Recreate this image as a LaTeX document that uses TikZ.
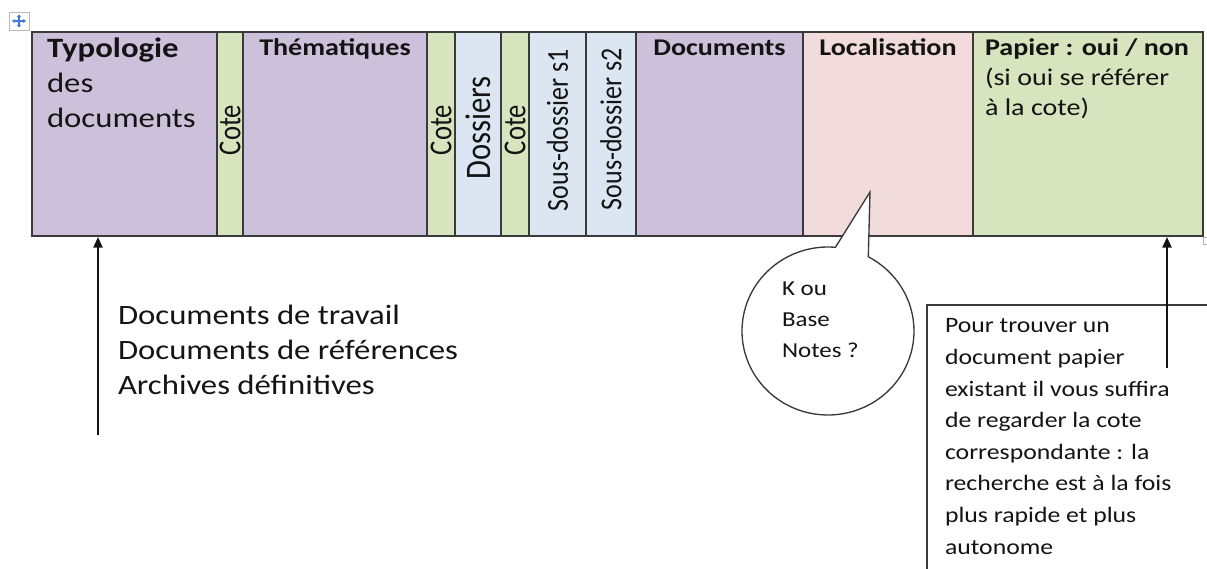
\documentclass[tikz,border=0pt]{standalone}
\usepackage{fontspec}
\setmainfont{Carlito}[FakeStretch=1.17]
\newfontfamily\rotfont{Carlito}
\usetikzlibrary{arrows.meta,shapes.callouts,calc}
\definecolor{lila}{HTML}{CCC0DA}
\definecolor{vert}{HTML}{D7E4BD}
\definecolor{bleu}{HTML}{DCE6F2}
\definecolor{rose}{HTML}{F2DCDB}
\definecolor{trait}{HTML}{3A3A3A}
\definecolor{encre}{HTML}{141414}
\definecolor{bleuicone}{HTML}{3C78D8}
\begin{document}
\begin{tikzpicture}[x=0.75pt, y=-0.75pt, >={Triangle[length=8pt,width=7pt]},
    every node/.style={text=encre, inner sep=0pt, outer sep=0pt},
    cell/.style={draw=trait, line width=1.5pt, minimum height=153pt, anchor=north west},
    head/.style={font=\fontsize{18}{22.5}\selectfont\bfseries, anchor=base},
    vtext/.style={rotate=90},
    txt/.style={anchor=base west, align=left},
    fleche/.style={->, draw=encre, line width=1.2pt, shorten >=0.8pt}]
    \useasboundingbox (0,0) rectangle (1207,568);
    \clip (0,0) rectangle (1207,568);

    % poignee du tableau
    \node[draw=gray!55, fill=white, line width=0.6pt, minimum width=15pt, minimum height=13.5pt, anchor=north west] (poignee) at (9,12) {};
    \draw[bleuicone, line width=0.8pt, {Triangle[length=2pt,width=3pt]}-{Triangle[length=2pt,width=3pt]}]
    ($(poignee.center)+(-7,0)$) -- ($(poignee.center)+(7,0)$);
    \draw[bleuicone, line width=0.8pt, {Triangle[length=2pt,width=3pt]}-{Triangle[length=2pt,width=3pt]}]
    ($(poignee.center)+(0,-6.5)$) -- ($(poignee.center)+(0,6.5)$);

    % colonnes
    \foreach \l/\r/\c/\n in {32/217/lila/typo, 217/243/vert/coteA, 243/427/lila/them,
      427/455/vert/coteB, 455/501/bleu/doss, 501/529/vert/coteC, 529/586/bleu/sdA,
      586/636/bleu/sdB, 636/803/lila/docs, 803/973/rose/loca, 973/1203/vert/papier}
    \node[cell, fill=\c, minimum width={(\r-\l)*0.75pt}] (\n) at (\l,32) {};
    \node[draw=gray!60, line width=0.6pt, minimum size=5.5pt, anchor=north west] (coin) at (1203,237) {};

    % base = derniere ligne
    \node[txt, font=\fontsize{21}{26.25}\selectfont] (typotxt) at (47,127) {\textbf{Typologie}\\des\\documents};
    \node[head] (themtxt) at ($(them.north)+(0,23)$) {Thématiques};
    \node[head] (docstxt) at ($(docs.north)+(0,23)$) {Documents};
    \node[head] (locatxt) at ($(loca.north)+(0,23)$) {Localisation};
    \node[txt, font=\fontsize{18}{22.5}\selectfont] (papiertxt) at (985,115) {\textbf{Papier : oui / non}\\(si oui se référer\\à la cote)};

    \foreach \n in {coteA, coteB, coteC}
    \node[vtext, font=\rotfont\fontsize{20}{24}\selectfont] at ($(\n.north)+(0,98)$) {\scalebox{1}[1.2]{Cote}};
    \node[vtext, font=\rotfont\fontsize{23}{27}\selectfont] (dosstxt) at ($(doss.north)+(0,96)$) {\scalebox{1}[1.17]{Dossiers}};
    \node[vtext, font=\rotfont\fontsize{19.5}{24}\selectfont] (sdAtxt) at ($(sdA.north)+(0,98)$) {\scalebox{1}[1.17]{Sous-dossier s1}};
    \node[vtext, font=\rotfont\fontsize{19.5}{24}\selectfont] (sdBtxt) at ($(sdB.north)+(0,97)$) {\scalebox{1}[1.17]{Sous-dossier s2}};

    % types de documents
    \node[txt, font=\fontsize{21}{26.25}\selectfont] (types) at (118,394) {Documents de travail\\Documents de références\\Archives définitives};
    \coordinate (queueA) at (98,435);
    \draw[fleche] (queueA) -- (queueA |- typo.south);

    % bulle
    \node[ellipse callout, draw=trait, fill=white, line width=1pt, minimum width=129pt, minimum height=126pt,
      callout absolute pointer={(870,192)}, callout pointer arc=23] (bulle) at (828,331) {};
    \node[txt, font=\fontsize{16}{23}\selectfont] (bulletxt) at (782,357) {K ou\\Base\\Notes ?};

    % encadre papier
    \node[draw=trait, line width=1.5pt, anchor=north west, minimum width=225pt, minimum height=225pt] (encadre) at (927,305) {};
    \node[txt, font=\fontsize{16.5}{23.7}\selectfont] (note) at (945,554) {Pour trouver un\\document papier\\existant il vous suffira\\de regarder la cote\\correspondante : la\\recherche est à la fois\\plus rapide et plus\\autonome};
    \coordinate (queueB) at (1167,368);
    \draw[fleche] (queueB) -- (queueB |- papier.south);
\end{tikzpicture}
\end{document}
